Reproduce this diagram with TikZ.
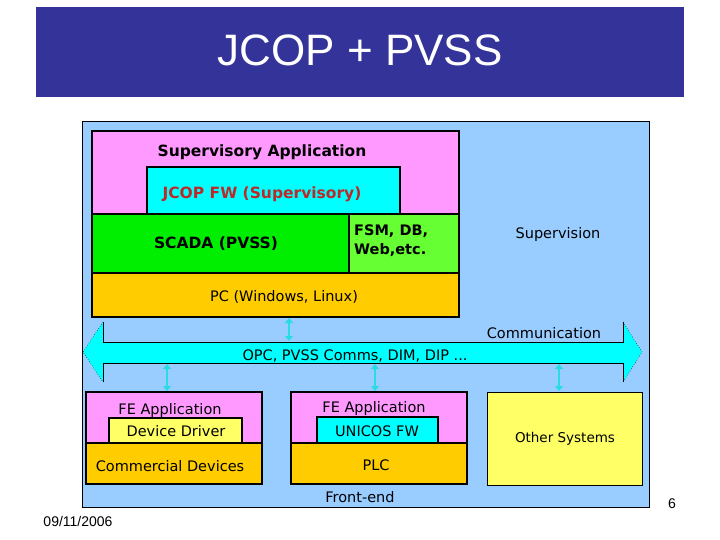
\documentclass[tikz,border=0pt]{standalone}
\usepackage{fontspec}
\setmainfont{Liberation Sans}
\newfontfamily\comic{DejaVu Sans}
\usetikzlibrary{arrows.meta}
\definecolor{titleblue}{RGB}{51,51,153}
\definecolor{panelblue}{RGB}{153,204,255}
\definecolor{pinkbox}{RGB}{255,153,255}
\definecolor{cyanbox}{RGB}{0,255,255}
\definecolor{greenbox}{RGB}{0,238,0}
\definecolor{lgreenbox}{RGB}{102,255,51}
\definecolor{orangebox}{RGB}{255,204,0}
\definecolor{yellowbox}{RGB}{255,255,102}
\definecolor{jcopred}{RGB}{190,40,40}
\definecolor{linkcyan}{RGB}{40,220,230}
\tikzset{
  layer/.style={draw=black, line width=1.4pt, anchor=north west, inner sep=0pt, outer sep=0pt},
  lbl/.style={font=\comic\fontsize{14.5}{16}\selectfont, inner sep=0pt, text=black},
  blbl/.style={font=\comic\bfseries\fontsize{15.5}{17}\selectfont, inner sep=0pt, text=black},
  link/.style={draw=linkcyan, line width=2.2pt, {Triangle[width=8pt,length=5pt]}-{Triangle[width=8pt,length=5pt]}, shorten >=1pt, shorten <=1pt},
}
\begin{document}
\begin{tikzpicture}[x=1pt,y=-1pt]
\useasboundingbox (0,0) rectangle (720,540);
% title banner
\node[fill=titleblue, anchor=north west, minimum width=648pt, minimum height=90pt, inner sep=0pt] (banner) at (36,7) {};
\node[text=white, font=\fontsize{44}{48}\selectfont] (title) at (360,50) {JCOP + PVSS};
% panel
\node[layer, line width=0.8pt, fill=panelblue, minimum width=567pt, minimum height=386pt] (panel) at (82,121) {};
% supervisory stack
\node[layer, fill=pinkbox, minimum width=367pt, minimum height=83pt] (supapp) at (92,131) {};
\node[layer, fill=cyanbox, minimum width=253pt, minimum height=47pt] (jcop) at (147,167) {};
\node[layer, fill=greenbox, minimum width=257pt, minimum height=59pt] (scada) at (92,214) {};
\node[layer, fill=lgreenbox, minimum width=110pt, minimum height=59pt] (fsm) at (349,214) {};
\node[layer, fill=orangebox, minimum width=367pt, minimum height=44pt] (pc) at (92,273) {};
\node[blbl] (tsupapp) at (262,152) {Supervisory Application};
\node[blbl, text=jcopred] (tjcop) at (262,194) {JCOP FW (Supervisory)};
\node[blbl] (tscada) at (216,244) {SCADA (PVSS)};
\node[blbl, align=left, anchor=west, font=\comic\bfseries\fontsize{14.5}{19}\selectfont] (tfsm) at (354,241) {FSM, DB,\\Web,etc.};
\node[lbl] (tpc) at (284,297) {PC (Windows, Linux)};
\node[lbl] (tsup) at (558,235) {Supervision};
% big communication arrow
\fill[cyanbox] (83,352) -- (103,322) -- (103,342) -- (623,342) -- (623,322) -- (642,352) -- (623,382) -- (623,363) -- (103,363) -- (103,382) -- cycle;
\draw[line width=0.8pt] (103,322) -- (103,342) -- (623,342) -- (623,322);
\draw[line width=0.8pt] (103,382) -- (103,363) -- (623,363) -- (623,382);
\draw[line width=0.5pt, dotted] (103,322) -- (83,352) -- (103,382);
\draw[line width=0.5pt, dotted] (623,322) -- (642,352) -- (623,382);
\coordinate (shafttopA) at (289,342);
\coordinate (shaftbotL) at (167,363);
\coordinate (shaftbotM) at (375,363);
\coordinate (shaftbotR) at (559,363);
\node[lbl] (tcomm) at (544,333) {Communication};
\node[lbl] (topc) at (355,356) {OPC, PVSS Comms, DIM, DIP ...};
% front-end boxes
\node[layer, fill=pinkbox, minimum width=176pt, minimum height=51pt] (feL) at (86,392) {};
\node[layer, fill=yellowbox, minimum width=133pt, minimum height=25pt] (drv) at (109,418) {};
\node[layer, fill=orangebox, minimum width=176pt, minimum height=41pt] (comm) at (86,443) {};
\node[layer, fill=pinkbox, minimum width=176pt, minimum height=51pt] (feM) at (291,392) {};
\node[layer, fill=cyanbox, minimum width=121pt, minimum height=26pt] (unicos) at (317,417) {};
\node[layer, fill=orangebox, minimum width=176pt, minimum height=41pt] (plc) at (291,443) {};
\node[layer, line width=1pt, fill=yellowbox, minimum width=155pt, minimum height=93pt] (other) at (487,392) {};
\node[lbl] (tfeL) at (170,410) {FE Application};
\node[lbl] (tdrv) at (176,431) {Device Driver};
\node[lbl] (tcomd) at (170,466) {Commercial Devices};
\node[lbl] (tfeM) at (374,408) {FE Application};
\node[lbl] (tuni) at (377,431) {UNICOS FW};
\node[lbl] (tplc) at (376,465) {PLC};
\node[lbl] (tfront) at (360,497) {Front-end};
\node[lbl, font=\comic\fontsize{13.5}{15}\selectfont] (tother) at (565,439) {Other Systems};
% links
\draw[link] (pc.south -| shafttopA) -- (shafttopA);
\draw[link] (shaftbotL) -- (feL.north -| shaftbotL);
\draw[link] (shaftbotM) -- (feM.north -| shaftbotM);
\draw[link] (shaftbotR) -- (other.north -| shaftbotR);
% footer
\node[font=\fontsize{14}{16}\selectfont] (date) at (78,521) {09/11/2006};
\node[font=\fontsize{14}{16}\selectfont] (page) at (672,504) {6};
\end{tikzpicture}
\end{document}
